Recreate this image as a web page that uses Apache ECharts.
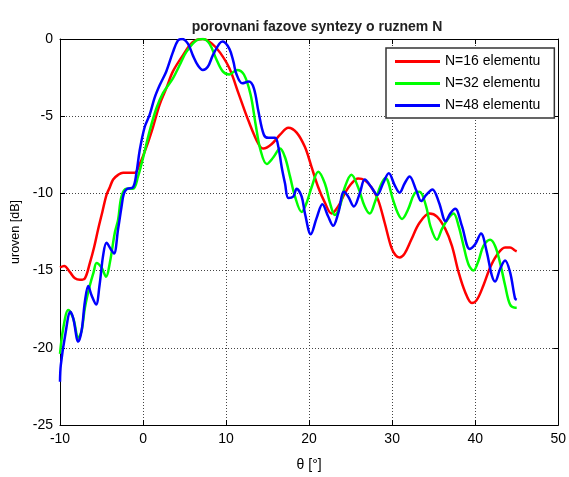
<!DOCTYPE html>
<html>
<head>
<meta charset="utf-8">
<script src="https://cdn.jsdelivr.net/npm/echarts@6/dist/echarts.min.js"></script>
<style>
html,body{margin:0;padding:0;background:#fff;}
#chart{width:569px;height:477px;}
</style>
</head>
<body>
<div id="chart"></div>
<script>
// ---- Data ----
var titleText = 'porovnani fazove syntezy o ruznem N';
var xAxisName = 'θ [°]';
var yAxisName = 'uroven [dB]';
var seriesNames = ['N=16 elementu', 'N=32 elementu', 'N=48 elementu'];
var xTicks = [-10, 0, 10, 20, 30, 40, 50];
var yTicks = [-25, -20, -15, -10, -5, 0];

var theta16 = [-10,-9.5,-8.8,-8.2,-7.6,-7.0,-6.4,-5.9,-5.4,-4.9,-4.4,-4.0,-3.6,-3.0,-2.4,-1.6,-1.0,-0.4,0.4,1.2,2.0,2.8,3.6,4.8,6.0,7.2,8.3,9.3,10.4,11.55,12.7,13.9,14.5,15.5,16.5,17.5,18.5,19.5,20.3,21.1,21.9,22.7,23.5,24.3,25.1,25.9,26.7,27.5,28.3,29.1,29.9,30.4,30.9,31.5,32.3,33.3,34.5,35.4,36.4,37.2,38.0,38.8,39.6,40.2,41.0,41.8,42.6,43.6,44.2,44.8,45];
var db16 = [-14.8,-14.7,-15.1,-15.5,-15.6,-15.5,-14.5,-13.5,-12.3,-11.2,-10.1,-9.6,-9.1,-8.8,-8.66,-8.66,-8.66,-8.1,-7.0,-5.7,-4.25,-3.2,-2.1,-1.06,-0.2,0,-0.3,-0.9,-1.9,-3.6,-5.3,-6.8,-7.1,-6.8,-6.2,-5.74,-6.06,-7.0,-8.3,-9.6,-10.6,-11.3,-10.85,-10.0,-9.36,-9.04,-9.15,-9.6,-10.4,-11.9,-13.5,-14.0,-14.15,-13.9,-13.0,-11.9,-11.3,-11.5,-12.3,-13.4,-15.1,-16.4,-17.1,-16.9,-15.95,-14.8,-14.0,-13.5,-13.5,-13.7,-13.75];

var theta32 = [-10,-9.6,-9.0,-8.4,-7.8,-7.4,-7.0,-6.4,-5.95,-5.6,-5.0,-4.45,-4.0,-3.4,-3.0,-2.6,-2.0,-1.2,-0.6,0,0.8,1.6,2.4,3.6,4.4,5.2,6.4,7.2,8.0,8.8,9.6,10.4,11.3,12.15,12.95,13.55,14.15,14.9,15.7,16.5,17.1,17.7,18.3,19.1,19.7,20.3,21.1,21.9,22.5,23.1,23.7,24.3,25.1,25.9,26.7,27.3,27.9,28.6,29.2,30.1,30.7,31.2,31.9,32.7,33.3,34.1,34.6,35.4,36.0,36.8,37.4,38.0,38.6,39.2,39.8,40.4,41.0,41.8,42.4,43.0,43.6,44.2,44.8,45];
var db32 = [-20.4,-18.7,-17.55,-18.1,-19.35,-18.9,-17.4,-15.95,-15.1,-14.5,-14.8,-15.4,-14.5,-12.55,-11.7,-10.2,-9.7,-9.7,-8.9,-7.7,-5.95,-4.5,-3.5,-2.55,-1.7,-0.85,-0.1,0,-0.3,-1.28,-2.1,-2.3,-2.0,-2.3,-3.6,-5.5,-7.2,-8.1,-7.66,-7.1,-7.66,-8.9,-10.2,-11.2,-10.6,-9.6,-8.6,-9.36,-10.6,-11.4,-10.85,-9.6,-8.8,-9.6,-10.85,-11.3,-10.6,-9.5,-9.0,-10.4,-11.3,-11.65,-11.06,-10.0,-9.9,-10.85,-12.1,-13.0,-12.3,-11.6,-11.3,-12.1,-13.4,-14.6,-15.0,-14.36,-13.4,-13.0,-13.4,-14.5,-15.95,-17.2,-17.4,-17.4];

var theta48 = [-10,-9.9,-9.35,-8.75,-8.4,-7.8,-7.4,-7.0,-6.6,-6.2,-5.65,-5.25,-4.8,-4.4,-3.9,-3.5,-3.0,-2.6,-2.3,-1.9,-1.2,-0.8,-0.4,0.2,0.8,1.4,2.0,2.8,3.6,4.2,4.7,5.4,6.0,6.6,7.2,7.8,8.4,9.2,9.6,10.4,10.9,11.2,11.95,12.75,13.35,13.9,14.55,15.1,15.9,16.3,16.7,17.1,17.5,18.1,18.5,19.1,19.5,20.2,20.9,21.6,22.3,22.9,23.5,24.2,24.7,25.4,26.1,26.7,27.5,28.2,28.9,29.6,30.3,30.9,31.5,32.1,32.9,33.5,34.1,34.85,35.65,36.45,37.0,37.6,38.4,39.35,40.0,40.7,41.4,42.0,42.4,43.0,43.6,44.2,44.8,45];
var db48 = [-22.2,-21.1,-19.1,-17.66,-18.1,-19.6,-18.9,-17.0,-16.0,-16.6,-17.2,-16.0,-14.0,-13.2,-13.6,-13.9,-12.3,-10.9,-10.0,-9.7,-9.6,-8.7,-7.2,-5.7,-4.9,-3.8,-3.0,-2.1,-0.85,-0.1,0,-0.3,-1.06,-1.7,-2.0,-1.8,-1.06,-0.3,-0.17,-0.64,-1.5,-2.2,-2.87,-2.76,-3.2,-4.7,-6.2,-6.4,-6.4,-7.0,-8.3,-9.36,-10.3,-10.2,-9.7,-10.2,-11.3,-12.65,-11.6,-10.7,-11.5,-12.1,-11.3,-9.9,-10.2,-10.85,-10.0,-9.1,-9.6,-10.1,-9.36,-8.7,-9.46,-9.95,-9.36,-8.9,-9.8,-10.5,-10.1,-9.74,-10.6,-11.8,-11.3,-11.0,-12.1,-13.6,-13.3,-12.6,-13.8,-15.3,-15.7,-14.9,-14.35,-15.1,-16.8,-16.9];

var seriesColors = ['#ff0000', '#00ff00', '#0000ff'];

function pairs(xs, ys) {
  var out = [];
  for (var i = 0; i < xs.length; i++) out.push([xs[i], ys[i]]);
  return out;
}

var FONT = '"Liberation Sans", Arial, Helvetica, sans-serif';
var chart = echarts.init(document.getElementById('chart'), null, {renderer: 'canvas'});

var gridLine = {show: true, lineStyle: {color: '#444', type: [1, 2], width: 1}};
var axisLineStyle = {show: true, onZero: false, lineStyle: {color: '#000', width: 1}};
var tickStyle = {show: true, inside: true, length: 5, lineStyle: {color: '#000', width: 1}};

var allData = [pairs(theta16, db16), pairs(theta32, db32), pairs(theta48, db48)];

var option = {
  animation: false,
  backgroundColor: '#fff',
  title: {
    text: titleText,
    left: 312,
    textAlign: 'center',
    top: 15,
    textStyle: {fontFamily: FONT, fontSize: 14, fontWeight: 'bold', color: '#222'}
  },
  grid: {left: 60, right: 7, top: 39, bottom: 45, containLabel: false},
  legend: {
    orient: 'vertical',
    left: 386,
    top: 48,
    data: seriesNames,
    icon: 'rect',
    itemWidth: 45,
    itemHeight: 3,
    itemGap: 5,
    padding: [5, 14, 4, 9],
    backgroundColor: '#fff',
    borderColor: '#333',
    borderWidth: 1.5,
    borderRadius: 0,
    textStyle: {fontFamily: FONT, fontSize: 14, color: '#000', lineHeight: 17}
  },
  xAxis: [{
    type: 'value',
    min: xTicks[0], max: xTicks[xTicks.length - 1], interval: 10,
    name: xAxisName,
    nameLocation: 'middle',
    nameGap: 33,
    nameTextStyle: {fontFamily: FONT, fontSize: 14, color: '#000'},
    axisLine: axisLineStyle,
    axisTick: tickStyle,
    axisLabel: {fontFamily: FONT, fontSize: 14, color: '#000', margin: 7},
    splitLine: gridLine
  }, {
    type: 'value', position: 'top',
    min: xTicks[0], max: xTicks[xTicks.length - 1], interval: 10,
    axisLine: axisLineStyle, axisTick: tickStyle,
    axisLabel: {show: false}, splitLine: {show: false}
  }],
  yAxis: [{
    type: 'value',
    min: yTicks[0], max: yTicks[yTicks.length - 1], interval: 5,
    name: yAxisName,
    nameLocation: 'middle',
    nameGap: 37,
    nameTextStyle: {fontFamily: FONT, fontSize: 12.5, color: '#000'},
    axisLine: axisLineStyle,
    axisTick: tickStyle,
    axisLabel: {fontFamily: FONT, fontSize: 14, color: '#000', margin: 7},
    splitLine: gridLine
  }, {
    type: 'value', position: 'right',
    min: yTicks[0], max: yTicks[yTicks.length - 1], interval: 5,
    axisLine: axisLineStyle, axisTick: tickStyle,
    axisLabel: {show: false}, splitLine: {show: false}
  }],
  series: seriesNames.map(function (nm, i) {
    return {
      name: nm,
      type: 'line',
      xAxisIndex: 0, yAxisIndex: 0,
      data: allData[i],
      showSymbol: false,
      symbol: 'none',
      smooth: 0.35,
      color: seriesColors[i],
      lineStyle: {color: seriesColors[i], width: 2.5},
      z: 2 + i
    };
  })
};
chart.setOption(option);
</script>
</body>
</html>
